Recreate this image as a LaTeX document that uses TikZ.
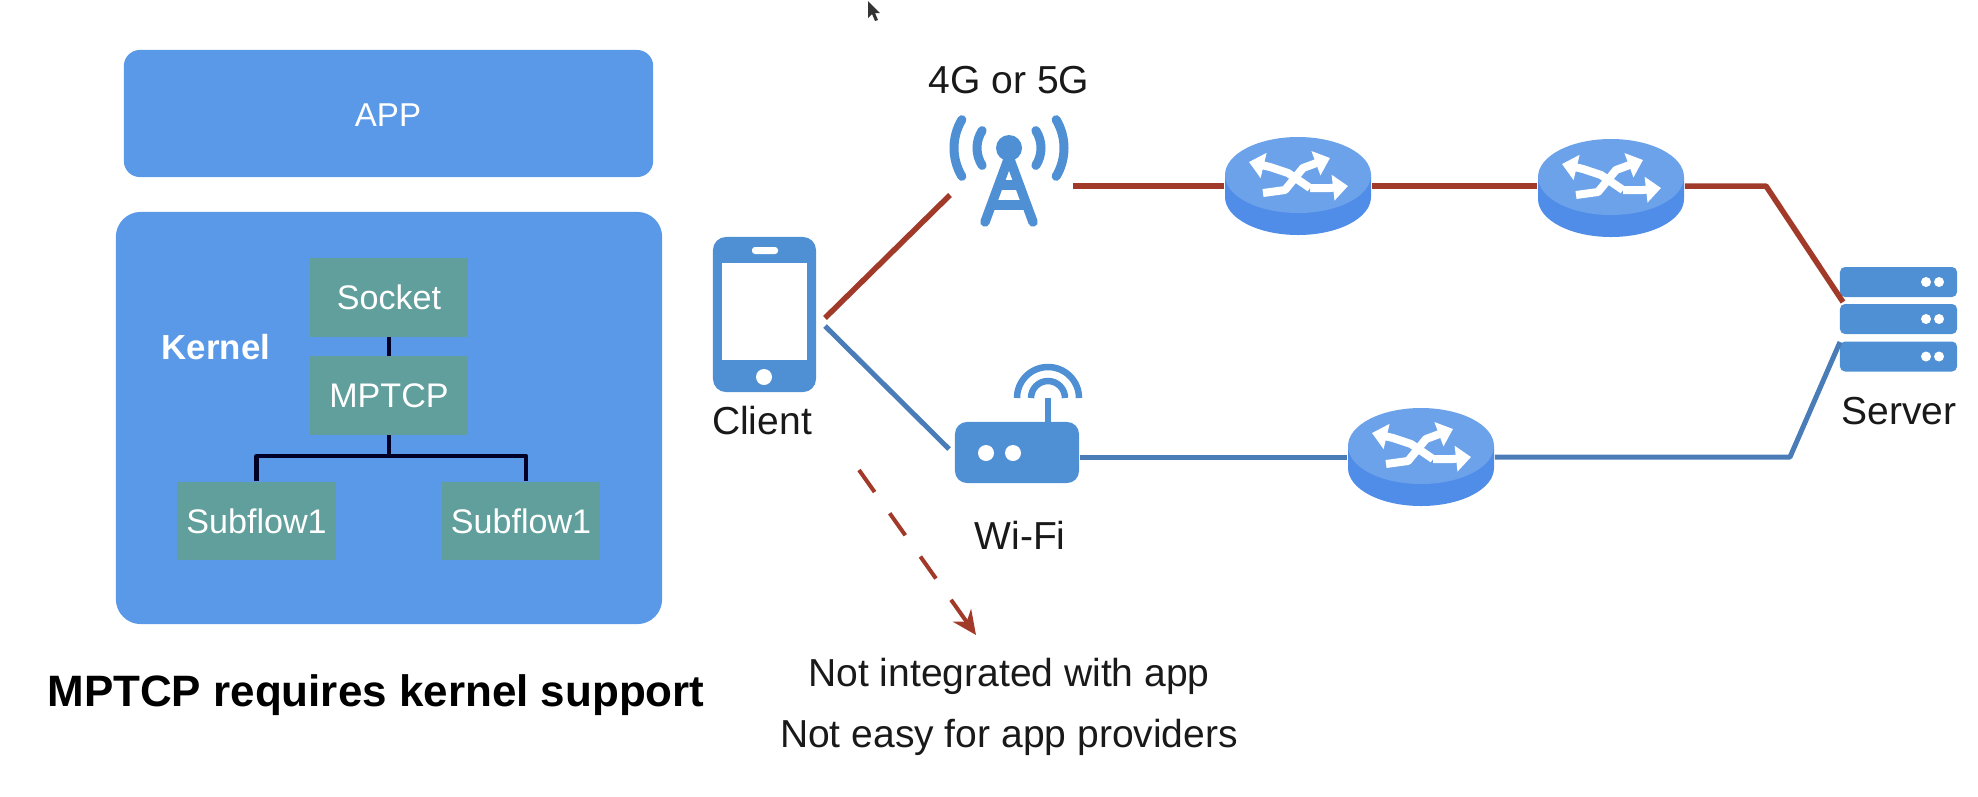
\documentclass[tikz,border=0pt]{standalone}
\usepackage{fontspec}
\setmainfont{Liberation Sans}
\usetikzlibrary{arrows.meta}

\definecolor{boxblue}{HTML}{5A98E8}
\definecolor{boxgreen}{HTML}{609F9B}
\definecolor{iconblue}{HTML}{4F8FD3}
\definecolor{linered}{HTML}{A23A2A}
\definecolor{lineblue}{HTML}{4A7DB8}
\definecolor{routertop}{HTML}{6CA2EA}
\definecolor{routerside}{HTML}{4F8DE8}

\tikzset{
  bluebox/.style={shape=rectangle,fill=boxblue,text=white,align=center,font=\fontsize{9.4}{11}\selectfont},
  greenbox/.style={shape=rectangle,fill=boxgreen,text=white,align=center,minimum width=1.58cm,minimum height=.78cm,inner sep=0pt,font=\fontsize{9.7}{11}\selectfont},
  caption/.style={shape=rectangle,inner sep=0pt,align=center,text=black!90,font=\fontsize{11.1}{13}\selectfont},
  hook/.style={draw=black!85!blue,line width=.045cm},
  redline/.style={draw=linered,line width=.055cm},
  blueline/.style={draw=lineblue,line width=.05cm},
  iconline/.style={draw=iconblue,line width=.095cm},
  ghost/.style={shape=rectangle,inner sep=0pt,minimum width=1.46cm,minimum height=.76cm},
  routerpic/.pic={
    \fill[routerside] (-73,-11) -- (-73,11) arc[start angle=180,end angle=0,x radius=73,y radius=38] -- (73,-11) -- cycle;
    \fill[routertop] (0,-11) ellipse (73 and 38);
    \draw[white,line width=.08cm,line join=round,-{Triangle[length=.15cm,width=.25cm]}] (12,2) -- (-10,-13) -- (-28,-19) -- (-49,-24);
    \draw[white,line width=.08cm,line join=round,-{Triangle[length=.15cm,width=.25cm]}] (12,2) -- (32,2) -- (50,0);
    \draw[white,line width=.08cm,line join=round,-{Triangle[length=.15cm,width=.25cm]}] (-35,7) -- (-13,4) -- (5,-18) -- (32,-28);
  },
  rackpic/.style={shape=rectangle,rounded corners=.05cm,fill=iconblue,minimum width=1.17cm,minimum height=.3cm,inner sep=0pt},
}

\begin{document}
\begin{tikzpicture}[x=.01cm,y=-.01cm]
\useasboundingbox (0,0) rectangle (1978,796);

% left side
\node[bluebox,rounded corners=.16cm,minimum width=5.29cm,minimum height=1.27cm] (app) at (388.5,113.5) {};
\node[text=white,font=\fontsize{9.4}{11}\selectfont] (applabel) at (388,115) {APP};
\node[bluebox,rounded corners=.25cm,minimum width=5.46cm,minimum height=4.12cm] (kernel) at (389,418) {};
\node[text=white,font=\bfseries\fontsize{9.9}{11}\selectfont] (kernellabel) at (216,347) {Kernel};

\node[greenbox] (socket) at (389,297.5) {Socket};
\node[greenbox] (mptcp) at (389,395.5) {MPTCP};
\node[greenbox] (subleft) at (256.5,521) {Subflow1};
\node[greenbox] (subright) at (521,521) {Subflow1};

\path [hook] (socket) -- (mptcp);
\path [hook,line join=round] (mptcp.south) -- ++(0,21) -| (subleft.north);
\path [hook,line join=round] (mptcp.south) -- ++(0,21) -| ([xshift=.05cm]subright.north);

\node[text=black,inner sep=0pt,font=\bfseries\fontsize{12.5}{14}\selectfont] (needs) at (376,695) {MPTCP requires kernel support};

% client
\node[shape=rectangle,rounded corners=.13cm,fill=iconblue,minimum width=1.03cm,minimum height=1.55cm,inner sep=0pt] (client) at (764.5,314.5) {};
\node[shape=rectangle,fill=white,minimum width=.85cm,minimum height=.97cm,inner sep=0pt] (screen) at (764.5,311.5) {};
\node[shape=rectangle,rounded corners=.03cm,fill=white,minimum width=.26cm,minimum height=.07cm,inner sep=0pt] (speaker) at (765,250.5) {};
\node[shape=circle,fill=white,minimum size=.16cm,inner sep=0pt] (homekey) at (764,377) {};
\node[caption] (clientlabel) at (762,421) {Client};

% tower
\coordinate (mast) at (1009,148);
\fill[iconblue] (mast) circle (13);
\draw[iconline,line cap=round,line join=round] (985,222) -- (1009,157) -- (1033,222);
\draw[iconline] (996,185) -- (1022,185);
\draw[iconline] (990,205) -- (1028,205);
\foreach \rad/\ang in {55/31,32/33} {
  \draw[draw=iconblue,line width=.09cm,line cap=round] (mast) ++(180-\ang:\rad) arc[start angle=180-\ang,end angle=180+\ang,radius=\rad];
  \draw[draw=iconblue,line width=.09cm,line cap=round] (mast) ++(-\ang:\rad) arc[start angle=-\ang,end angle=\ang,radius=\rad];
}
\node[caption] (towerlabel) at (1009,80) {4G or 5G};
\coordinate (towerin) at (950,195);
\coordinate (towerout) at (1073,186);

% wifi
\node[shape=rectangle,rounded corners=.12cm,fill=iconblue,minimum width=1.24cm,minimum height=.61cm,inner sep=0pt] (wifi) at (1017,452.5) {};
\node[shape=circle,fill=white,minimum size=.16cm,inner sep=0pt] (led1) at (986,453) {};
\node[shape=circle,fill=white,minimum size=.16cm,inner sep=0pt] (led2) at (1013,453) {};
\coordinate (aerial) at (1048,398);
\draw[draw=iconblue,line width=.065cm] (aerial) -- (1048,422);
\foreach \rad in {17,31} {
  \draw[draw=iconblue,line width=.065cm] (aerial) ++(180:\rad) arc[start angle=180,end angle=360,radius=\rad];
}
\node[caption] (wifilabel) at (1020,535) {Wi-Fi};
\coordinate (wifiin) at (949,449);
\coordinate (wifiout) at (1080,457);

% routers and server
\node[ghost] (r1) at (1298,186) {};
\node[ghost] (r2) at (1611,186) {};
\node[ghost] (r3) at (1421,457) {};

\node[rackpic] (rack1) at (1898.5,282) {};
\node[rackpic] (rack2) at (1898.5,319) {};
\node[rackpic] (rack3) at (1898.5,356.5) {};
\foreach \r in {rack1,rack2,rack3} {
  \fill[white] ([xshift=.275cm]\r.center) circle (5);
  \fill[white] ([xshift=.405cm]\r.center) circle (5);
}
\node[caption] (serverlabel) at (1899,411) {Server};

\coordinate (redfrom) at (825,318);
\coordinate (bluefrom) at (825,326);
\coordinate (redbend) at (1766,186);
\coordinate (bluebend) at (1790,457);
\coordinate (redend) at (1843,302);
\coordinate (blueend) at (1840,342);

\path [redline] (redfrom) -- (towerin);
\path [redline] (towerout) -- (r1.west);
\path [redline] (r1.east) -- (r2.west);
\path [redline,line join=round] (r2.east) -- (redbend) -- (redend);
\path [blueline] (bluefrom) -- (wifiin);
\path [blueline] (wifiout) -- (r3.west);
\path [blueline,line join=round] (r3.east) -- (bluebend) -- (blueend);

\pic at (r1) {routerpic};
\pic at ([yshift=-.02cm]r2) {routerpic};
\pic at (r3) {routerpic};

% dashed note
\coordinate (notefrom) at (859,470);
\node[caption] (note1) at (1009,676) {Not integrated with app};
\node[caption] (note2) at (1009,737) {Not easy for app providers};
\path [draw=linered,line width=.04cm,dash pattern=on .27cm off .26cm,-{Stealth[length=.24cm,width=.22cm]}] (notefrom) -- (976,635);

% pointer
\fill[black!80] (868,1) -- (868,18) -- (872,14) -- (875,21) -- (878,20) -- (875,13) -- (880,13) -- cycle;
\end{tikzpicture}
\end{document}
